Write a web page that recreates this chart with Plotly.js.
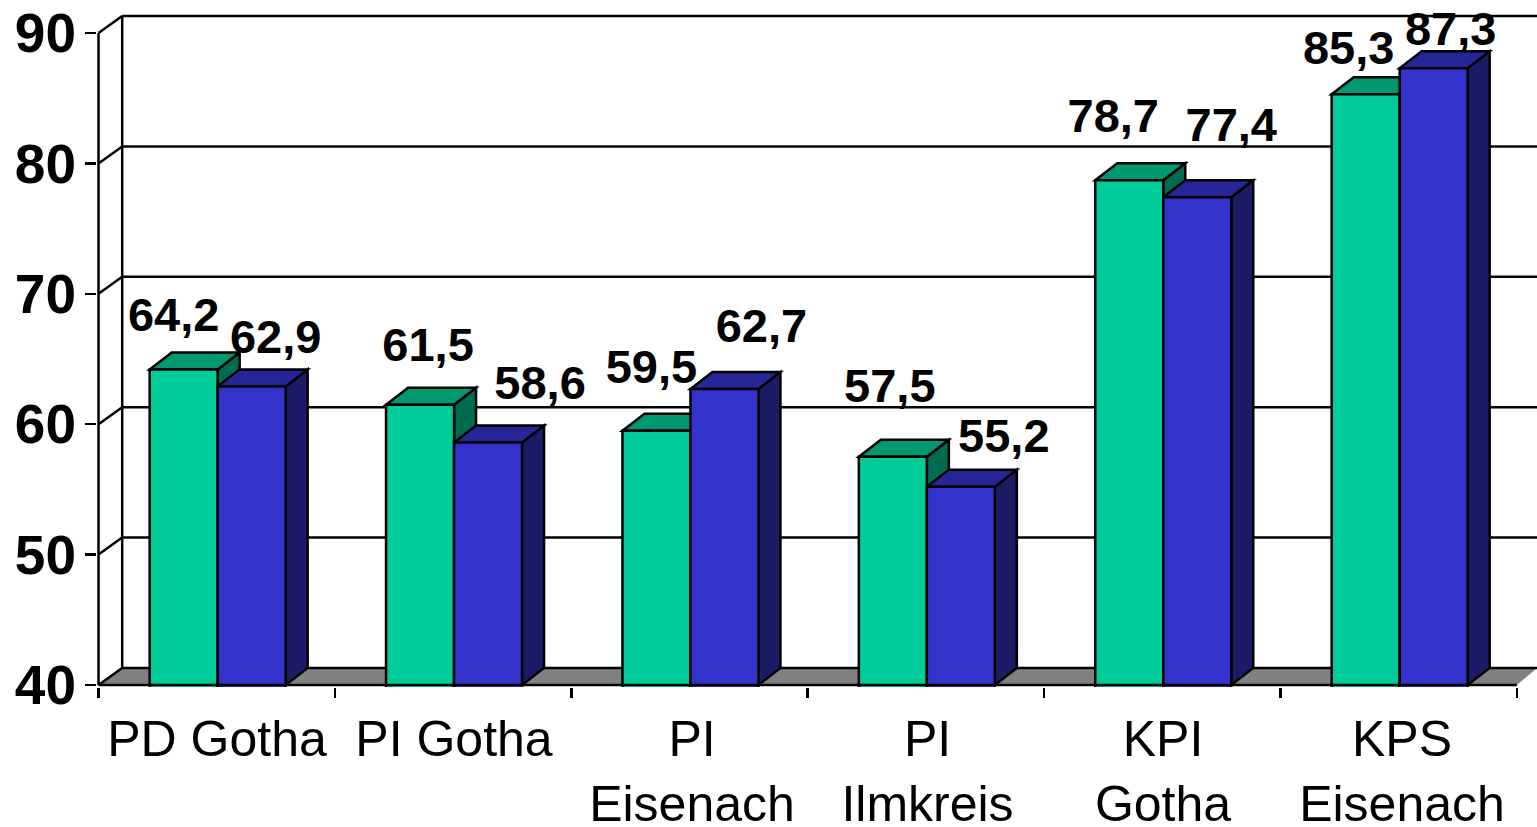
<!DOCTYPE html>
<html><head><meta charset="utf-8">
<script src="https://cdn.plot.ly/plotly-3.0.1.min.js"></script>
<style>html,body{margin:0;padding:0;background:#fff;overflow:hidden}#c{width:1537px;height:827px}</style>
</head><body><div id="c"></div>
<script>
// data
const categories = ['PD Gotha','PI Gotha','PI<br>Eisenach','PI<br>Ilmkreis','KPI<br>Gotha','KPS<br>Eisenach'];
const greenValues = [64.2,61.5,59.5,57.5,78.7,85.3];
const blueValues  = [62.9,58.6,62.7,55.2,77.4,87.3];
const yTicks = [40,50,60,70,80,90];
// label placement offsets relative to the bar's centre/top (px)
const greenLabelDx = [-10,8,-5,-3,-16,-17];
const greenLabelDy = [50,55,59,67,60,42];
const blueLabelDx  = [24,52,37,43,34,17];
const blueLabelDy  = [45,55,59,47,68,35];
const categoryLabelDx = [0.3,0.9,2.5,1.6,0.7,3.3];

// geometry
const W=1537,H=827, pxX=236.4, pxY=13.04, axisLeft=98.5, plotLeft=97, plotTop=13, plotBottom=687, baseY=685;
const xLo=-0.5-(axisLeft-plotLeft)/pxX, xHi=-0.5+(W-axisLeft)/pxX;
const yLo=40-(plotBottom-baseY)/pxY, yHi=40+(baseY-plotTop)/pxY;
const depthX=22/pxX, wallX=23.7/pxX, depthY=17/pxY, barW=68/pxX, shift=0.004;
const GREEN='#00CC99',GREEN_T='#00996F',GREEN_S='#006B4F',BLUE='#3333CC',BLUE_T='#262699',BLUE_S='#1C1C66',FLOOR='#808080';
const LW=2.5;

const path=pts=>'M'+pts.map(p=>p[0]+','+p[1]).join('L')+'Z';
const shapes=[];
const ln={color:'#000',width:LW};
// floor
shapes.push({type:'path',layer:'below',xref:'x',yref:'y',line:{width:0},fillcolor:FLOOR,
  path:path([[-0.5,40],[-0.5+wallX,40+depthY],[xHi,40+depthY],[5.5,40]])});
// walls + grid
yTicks.forEach(v=>{
  shapes.push({type:'line',layer:'below',xref:'x',yref:'y',x0:-0.5+wallX,x1:xHi,y0:v+depthY,y1:v+depthY,line:ln});
  shapes.push({type:'line',layer:'below',xref:'x',yref:'y',x0:-0.5,x1:-0.5+wallX,y0:v,y1:v+depthY,line:ln});
});
shapes.push({type:'line',layer:'below',xref:'x',yref:'y',x0:-0.5+wallX,x1:-0.5+wallX,y0:40+depthY,y1:90+depthY,line:ln});
// 3-D faces of the bars
function faces(vals,off,topCol,sideCol){
  vals.forEach((v,i)=>{
    const l=i+shift+off, r=l+barW;
    shapes.push({type:'path',layer:'below',xref:'x',yref:'y',line:ln,fillcolor:sideCol,
      path:path([[r,40],[r+depthX,40+depthY],[r+depthX,v+depthY],[r,v]])});
    shapes.push({type:'path',layer:'below',xref:'x',yref:'y',line:ln,fillcolor:topCol,
      path:path([[l,v],[l+depthX,v+depthY],[r+depthX,v+depthY],[r,v]])});
  });
}
faces(greenValues,-barW,GREEN_T,GREEN_S);
faces(blueValues,0,BLUE_T,BLUE_S);
// axis lines
shapes.push({type:'line',layer:'above',xref:'x',yref:'y',x0:-0.5,x1:5.5,y0:40,y1:40,line:ln});
shapes.push({type:'line',layer:'above',xref:'x',yref:'y',x0:-0.5,x1:-0.5,y0:40,y1:90,line:ln});

const idx=categories.map((_,i)=>i);
const fmt=v=>v.toFixed(1).replace('.',',');
const bar=(vals,col,off)=>({type:'bar',x:idx.map(i=>i+shift+off),y:vals,width:barW,
  marker:{color:col,line:{color:'#000',width:LW}},hoverinfo:'skip',cliponaxis:true});
const labels=(vals,off,dx,dy)=>({type:'scatter',mode:'text',
  x:vals.map((v,i)=>i+shift+off+dx[i]/pxX),
  y:vals.map((v,i)=>v+dy[i]/pxY),
  text:vals.map(fmt),textposition:'middle center',cliponaxis:false,hoverinfo:'skip',
  textfont:{family:'"Liberation Sans",Arial,sans-serif',size:47,color:'#000',weight:700}});

const traces=[bar(greenValues,GREEN,-barW/2),bar(blueValues,BLUE,barW/2),
  labels(greenValues,-barW/2,greenLabelDx,greenLabelDy),labels(blueValues,barW/2,blueLabelDx,blueLabelDy)];

const layout={width:W,height:H,autosize:false,showlegend:false,barmode:'overlay',
  margin:{l:plotLeft,r:0,t:plotTop,b:H-plotBottom,pad:0},
  paper_bgcolor:'#fff',plot_bgcolor:'#fff',shapes,
  xaxis:{range:[xLo,xHi],tickmode:'array',tickvals:idx.map(i=>i+categoryLabelDx[i]/pxX),ticktext:categories,ticks:'',showgrid:false,zeroline:false,showline:false,
    tickfont:{family:'"Liberation Sans",Arial,sans-serif',size:50,color:'#000'},tickangle:0,ticklabelstandoff:18,
    minor:{tickmode:'array',tickvals:[-0.5,0.5,1.5,2.5,3.5,4.5,5.5],ticks:'outside',ticklen:10,tickwidth:LW,tickcolor:'#000',showgrid:false}},
  yaxis:{range:[yLo,yHi],tickmode:'array',tickvals:yTicks,ticktext:yTicks.map(String),ticks:'outside',ticklen:11,tickwidth:LW,tickcolor:'#000',
    showgrid:false,zeroline:false,showline:false,ticklabelstandoff:-2,
    tickfont:{family:'"Liberation Sans",Arial,sans-serif',size:55,color:'#000',weight:700}}
};
Plotly.newPlot('c',traces,layout,{displayModeBar:false,staticPlot:true});
</script></body></html>
